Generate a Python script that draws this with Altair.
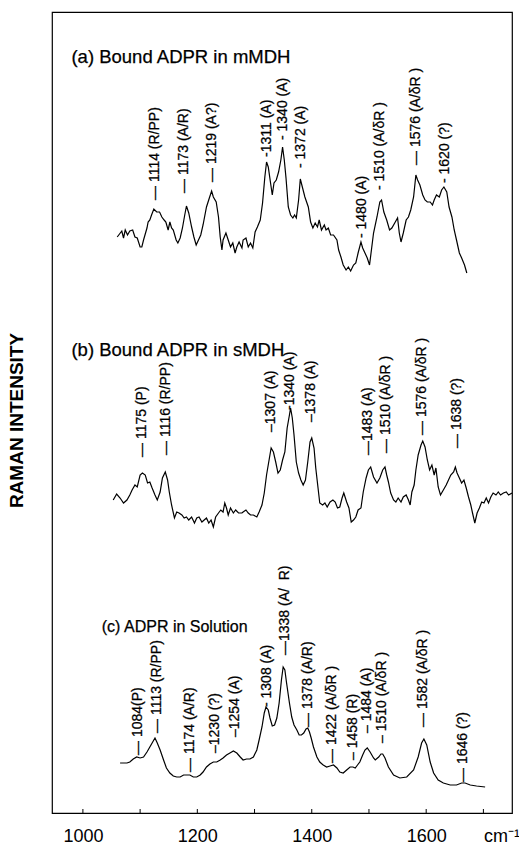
import altair as alt
import pandas as pd

# ---------- spectra (wavenumber cm-1, intensity in arbitrary stacked units) ----------
a_wn = [1060, 1068, 1071, 1074, 1078, 1082, 1087, 1091, 1095, 1100, 1103, 1106, 1112, 1114, 1117, 1120, 1124, 1129, 1134, 1138,
        1142, 1145, 1149, 1152, 1155, 1158, 1163, 1166, 1170, 1174, 1178, 1181, 1185, 1190, 1194, 1198, 1202, 1206, 1210, 1216,
        1221, 1225, 1228, 1233, 1237, 1240, 1243, 1245, 1250, 1254, 1258, 1262, 1266, 1269, 1273, 1278, 1280, 1285, 1289, 1293,
        1297, 1301, 1305, 1310, 1314, 1318, 1321, 1324, 1328, 1331, 1334, 1338, 1342, 1346, 1349, 1352, 1355, 1359, 1363, 1367,
        1370, 1373, 1377, 1380, 1384, 1388, 1394, 1398, 1402, 1406, 1410, 1413, 1417, 1422, 1425, 1429, 1433, 1438, 1444, 1447,
        1451, 1455, 1460, 1464, 1468, 1473, 1477, 1481, 1486, 1489, 1493, 1497, 1501, 1508, 1514, 1519, 1522, 1526, 1531, 1536,
        1540, 1546, 1550, 1553, 1556, 1560, 1565, 1569, 1573, 1578, 1582, 1585, 1589, 1594, 1598, 1602, 1607, 1611, 1614, 1618,
        1623, 1627, 1631, 1636, 1640, 1645, 1649, 1653, 1658, 1662, 1667, 1671]
a_int = [576, 582, 575, 583, 578, 582, 583, 576, 575, 566, 566, 573, 585, 591, 593, 598, 604, 601, 601, 596,
         593, 591, 583, 591, 585, 583, 573, 570, 575, 585, 598, 607, 600, 586, 576, 568, 573, 578, 588, 606,
         615, 622, 616, 611, 596, 576, 563, 573, 580, 573, 566, 570, 560, 566, 571, 565, 573, 575, 566, 570,
         565, 581, 586, 593, 610, 636, 651, 646, 630, 618, 630, 633, 641, 653, 666, 653, 635, 606, 598, 595,
         598, 595, 613, 634, 625, 616, 606, 591, 585, 590, 586, 593, 583, 588, 583, 585, 578, 578, 573, 563,
         556, 548, 543, 546, 542, 548, 550, 560, 571, 565, 560, 555, 548, 580, 596, 611, 613, 601, 593, 583,
         585, 591, 595, 580, 571, 580, 593, 596, 603, 616, 638, 633, 628, 618, 613, 611, 611, 608, 613, 618,
         616, 623, 626, 621, 606, 596, 583, 573, 560, 555, 548, 540]

b_wn = [1053, 1059, 1065, 1071, 1077, 1082, 1086, 1091, 1095, 1100, 1104, 1109, 1113, 1117, 1121, 1126, 1130, 1135, 1139, 1144,
        1148, 1151, 1155, 1160, 1164, 1168, 1173, 1177, 1181, 1185, 1190, 1195, 1199, 1203, 1208, 1212, 1216, 1220, 1224, 1228,
        1232, 1237, 1241, 1245, 1248, 1251, 1254, 1258, 1263, 1267, 1272, 1278, 1280, 1285, 1289, 1293, 1298, 1304, 1308, 1313,
        1317, 1321, 1326, 1329, 1333, 1337, 1341, 1345, 1349, 1353, 1357, 1361, 1363, 1366, 1369, 1373, 1377, 1381, 1385, 1389,
        1393, 1397, 1400, 1404, 1407, 1411, 1414, 1419, 1423, 1427, 1432, 1437, 1441, 1445, 1449, 1453, 1456, 1461, 1465, 1469,
        1473, 1477, 1481, 1486, 1490, 1495, 1499, 1503, 1508, 1514, 1519, 1524, 1528, 1531, 1534, 1538, 1543, 1547, 1551, 1556,
        1560, 1565, 1569, 1572, 1575, 1579, 1582, 1586, 1591, 1594, 1598, 1602, 1606, 1610, 1614, 1617, 1621, 1625, 1630, 1635,
        1639, 1643, 1648, 1651, 1654, 1658, 1662, 1666, 1670, 1674, 1678, 1681, 1685, 1689, 1693, 1697, 1701, 1705, 1709, 1713,
        1717, 1722, 1726, 1730, 1735, 1740, 1744, 1750]
b_int = [313, 319, 315, 310, 313, 318, 323, 328, 326, 338, 340, 338, 330, 331, 325, 318, 313, 321, 335, 341,
         333, 321, 308, 295, 301, 300, 298, 295, 296, 293, 296, 290, 295, 296, 291, 293, 295, 290, 293, 286,
         296, 300, 303, 301, 310, 305, 298, 305, 300, 303, 300, 300, 301, 303, 300, 298, 298, 296, 301, 308,
         320, 338, 355, 365, 361, 351, 340, 343, 353, 361, 385, 398, 405, 395, 378, 351, 340, 333, 328, 333,
         351, 371, 375, 365, 345, 325, 310, 308, 310, 306, 311, 313, 311, 305, 306, 315, 320, 311, 305, 291,
         293, 296, 303, 305, 321, 335, 343, 346, 336, 330, 335, 343, 346, 338, 331, 320, 313, 311, 315, 311,
         316, 318, 313, 308, 321, 328, 343, 358, 368, 372, 366, 353, 343, 348, 338, 345, 326, 318, 323, 328,
         333, 338, 341, 346, 340, 335, 330, 333, 325, 316, 308, 300, 290, 300, 305, 311, 310, 315, 310, 316,
         320, 318, 321, 318, 320, 321, 318, 320]

c_wn = [1065, 1077, 1082, 1088, 1094, 1100, 1106, 1112, 1117, 1122, 1126, 1130, 1135, 1141, 1146, 1152, 1158, 1164, 1170, 1176,
        1181, 1187, 1193, 1199, 1205, 1210, 1216, 1222, 1228, 1234, 1240, 1245, 1251, 1257, 1263, 1269, 1275, 1280, 1286, 1292,
        1298, 1304, 1308, 1313, 1317, 1320, 1324, 1327, 1331, 1335, 1339, 1343, 1347, 1350, 1353, 1356, 1361, 1365, 1369, 1374,
        1378, 1382, 1386, 1390, 1393, 1396, 1399, 1403, 1409, 1414, 1420, 1426, 1432, 1438, 1444, 1449, 1455, 1461, 1467, 1472,
        1476, 1480, 1484, 1489, 1493, 1497, 1502, 1508, 1511, 1517, 1521, 1524, 1528, 1534, 1543, 1554, 1566, 1578, 1586, 1592,
        1596, 1601, 1607, 1613, 1621, 1630, 1642, 1653, 1662, 1668, 1677, 1688, 1703]
c_int = [50, 50, 51, 54, 56, 55, 56, 61, 66, 71, 75, 70, 63, 53, 45, 40, 37, 36, 36, 38,
         38, 38, 36, 36, 38, 41, 46, 49, 51, 51, 53, 55, 58, 60, 62, 60, 56, 53, 54, 54,
         56, 63, 73, 86, 100, 106, 103, 95, 87, 88, 95, 110, 133, 146, 143, 130, 110, 96, 88, 83,
         78, 78, 80, 84, 85, 81, 75, 66, 56, 51, 48, 46, 47, 48, 45, 41, 40, 43, 46, 46,
         45, 48, 51, 58, 63, 65, 61, 55, 53, 56, 59, 59, 55, 46, 38, 35, 36, 43, 56, 70,
         74, 68, 51, 40, 33, 30, 28, 28, 30, 30, 28, 27, 26]

# ---------- band assignments ----------
a_lab = ["— 1114 (R/PP)", "— 1173 (A/R)", "— 1219 (A?)", "-1311 (A)", "- 1340 (A)", "- 1372 (A)",
         "- 1480 (A)", "- 1510 (A/δR )", "— 1576 (A/δR )", "- 1620 (?)"]
a_lab_wn = [1126, 1177, 1225, 1321, 1349, 1381, 1487, 1519, 1582, 1633]
a_lab_y = [613, 620, 631, 656, 673, 645, 575, 623, 648, 630]

b_lab = ["— 1175 (P)", "— 1116 (R/PP)", "–1307 (A)", "-1340 (A)", "–1378 (A)",
         "—1483 (A)", "— 1510 (A/δR )", "— 1576 (A/δR )", "— 1638 (?)"]
b_lab_wn = [1103, 1145, 1328, 1362, 1398, 1499, 1530, 1592, 1653]
b_lab_y = [356, 358, 381, 403, 391, 358, 360, 378, 365]

c_lab = ["— 1084(P)", "— 1113 (R/PP)", "— 1174 (A/R)", "–1230 (?)", "–1254 (A)", "- 1308 (A)",
         "—1338 (A/\u00a0\u00a0R)", "— 1378 (A/R)", "— 1422 (A/δR )", "– 1458 (R)", "– 1484 (A)",
         "– 1510 (A/δR )", "— 1582 (A/δR )", "— 1646 (?)"]
c_lab_wn = [1096, 1129, 1187, 1231, 1266, 1321, 1353, 1394, 1435, 1472, 1496, 1522, 1595, 1665]
c_lab_y = [58, 80, 41, 60, 76, 106, 158, 86, 50, 53, 80, 70, 86, 31]

panel_titles_ab = ["(a) Bound ADPR in mMDH", "(b) Bound ADPR in sMDH"]
title_ab_wn = [980, 980]
title_ab_y = [750, 457]
panel_title_c = ["(c) ADPR in Solution"]
title_c_wn = [1033]
title_c_y = [181]

tick_values = [1000, 1100, 1200, 1300, 1400, 1500, 1600, 1700]
label_values = [1000, 1200, 1400, 1600, 1700]

# ---------- tables ----------
spec = pd.concat([
    pd.DataFrame({"wn": a_wn, "I": a_int, "s": "a"}),
    pd.DataFrame({"wn": b_wn, "I": b_int, "s": "b"}),
    pd.DataFrame({"wn": c_wn, "I": c_int, "s": "c"}),
], ignore_index=True)
spec["i"] = range(len(spec))

labels = pd.DataFrame({
    "t": a_lab + b_lab + c_lab,
    "wn": a_lab_wn + b_lab_wn + c_lab_wn,
    "I": a_lab_y + b_lab_y + c_lab_y,
})
titles_ab = pd.DataFrame({"t": panel_titles_ab, "wn": title_ab_wn, "I": title_ab_y})
titles_c = pd.DataFrame({"t": panel_title_c, "wn": title_c_wn, "I": title_c_y})
ticks = pd.DataFrame({"wn": tick_values, "y0": 0, "y1": 4})

FONT = "Liberation Sans"
xscale = alt.Scale(domain=[946, 1750], nice=False, zero=False)
yscale = alt.Scale(domain=[0, 801], nice=False, zero=False)

xaxis = alt.Axis(
    values=label_values, format="d", ticks=False, grid=False, domain=False,
    labelExpr="datum.value == 1700 ? 'cm⁻¹' : datum.label",
    labelFontSize=18, labelFont=FONT, labelColor="black", labelPadding=14,
    labelAlign={"condition": {"test": "datum.value == 1700", "value": "left"}, "value": "center"},
    title=None,
)
yaxis = alt.Axis(
    labels=False, ticks=False, grid=False, domain=False,
    title="RAMAN INTENSITY", titleFont=FONT, titleFontSize=19, titleFontWeight="bold",
    titleColor="black", titlePadding=26, titleY=408,
)

lines = alt.Chart(spec).mark_line(color="black", strokeWidth=1.2, clip=True).encode(
    x=alt.X("wn:Q", scale=xscale, axis=xaxis),
    y=alt.Y("I:Q", scale=yscale, axis=yaxis),
    detail="s:N",
    order="i:Q",
)

peak_text = alt.Chart(labels).mark_text(
    angle=270, align="left", baseline="middle", fontSize=14, font=FONT, color="black",
    stroke="black", strokeWidth=0.25
).encode(x=alt.X("wn:Q", scale=xscale), y=alt.Y("I:Q", scale=yscale), text="t:N")

title_ab_text = alt.Chart(titles_ab).mark_text(
    align="left", baseline="alphabetic", fontSize=18.5, font=FONT, color="black",
    stroke="black", strokeWidth=0.25
).encode(x=alt.X("wn:Q", scale=xscale), y=alt.Y("I:Q", scale=yscale), text="t:N")

title_c_text = alt.Chart(titles_c).mark_text(
    align="left", baseline="alphabetic", fontSize=16, font=FONT, color="black",
    stroke="black", strokeWidth=0.25
).encode(x=alt.X("wn:Q", scale=xscale), y=alt.Y("I:Q", scale=yscale), text="t:N")

tick_rules = alt.Chart(ticks).mark_rule(color="black", strokeWidth=1).encode(
    x=alt.X("wn:Q", scale=xscale), y=alt.Y("y0:Q", scale=yscale), y2="y1:Q"
)

chart = alt.layer(lines, tick_rules, peak_text, title_ab_text, title_c_text).properties(
    width=460, height=801,
    autosize=alt.AutoSizeParams(type="none"),
    padding={"left": 52, "top": 12, "right": 7, "bottom": 37},
    background="white",
).configure_view(stroke="black", strokeWidth=1.2)

chart.save("out.html", embed_options={"renderer": "svg", "actions": False})
